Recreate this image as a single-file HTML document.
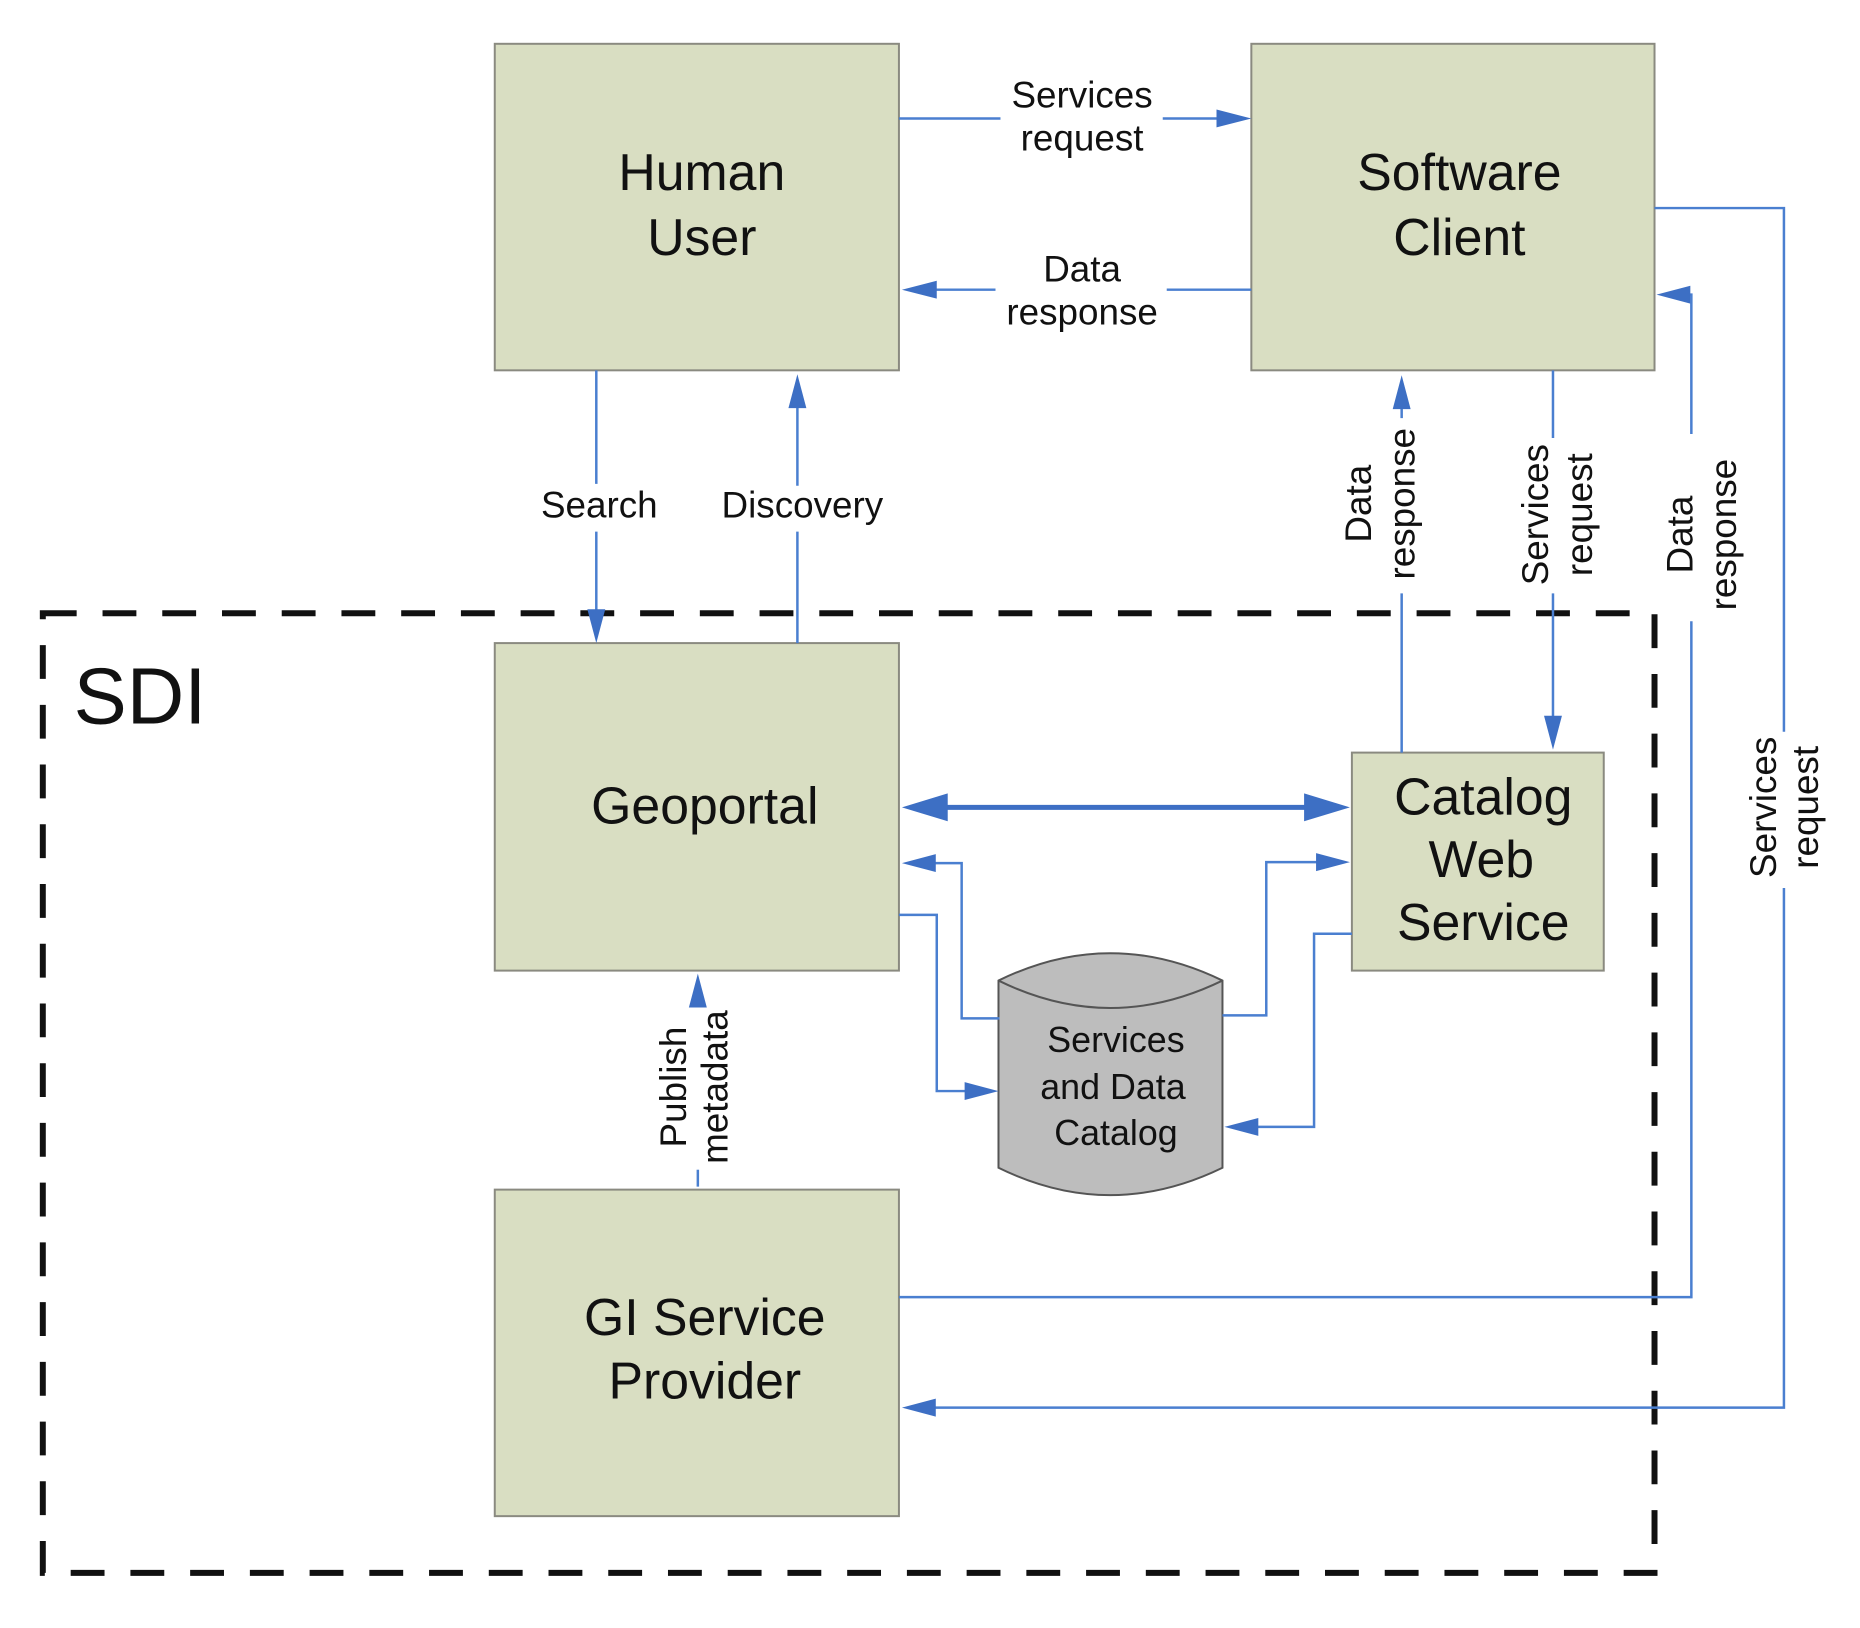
<!DOCTYPE html>
<html><head><meta charset="utf-8"><style>
html,body{margin:0;padding:0;background:#fff;}
svg{display:block;}
text{font-family:"Liberation Sans",Arial,sans-serif;fill:#111;}
</style></head><body>
<svg width="1860" height="1628" viewBox="0 0 1860 1628" xmlns="http://www.w3.org/2000/svg">
<g transform="scale(0.9955)">
<rect x="43" y="616" width="1619" height="964" fill="none" stroke="#111" stroke-width="6" stroke-dasharray="34,26"/>
<text x="74" y="727" font-size="80">SDI</text>

<g fill="#d9dec2" stroke="#8a8a80" stroke-width="2">
<rect x="497" y="44" width="406" height="328"/>
<rect x="1257" y="44" width="405" height="328"/>
<rect x="497" y="646" width="406" height="329"/>
<rect x="1358" y="756" width="253" height="219"/>
<rect x="497" y="1195" width="406" height="328"/>
</g>
<g font-size="52" text-anchor="middle">
<text x="705" y="191">Human</text><text x="705" y="256">User</text>
<text x="1466" y="191">Software</text><text x="1466" y="256">Client</text>
<text x="708" y="827">Geoportal</text>
<text x="1490" y="818">Catalog</text><text x="1488" y="881">Web</text><text x="1490" y="944">Service</text>
<text x="708" y="1341">GI Service</text><text x="708" y="1405">Provider</text>
</g>

<path d="M1003,985 Q1115,930 1228,985 L1228,1173 Q1115,1228 1003,1173 Z" fill="#bdbdbd" stroke="#555" stroke-width="2"/>
<path d="M1003,985 Q1115,1040 1228,985" fill="none" stroke="#555" stroke-width="2"/>
<g font-size="36" text-anchor="middle">
<text x="1121" y="1057">Services</text><text x="1118" y="1104">and Data</text><text x="1121" y="1150">Catalog</text>
</g>

<g fill="none" stroke="#4a7fd0" stroke-width="2.5">
<path d="M903,119 H1005 M1168,119 H1240"/>
<path d="M1257,291 H1172 M1000,291 H920"/>
<path d="M599,372 V486 M599,534 V630"/>
<path d="M801,646 V534 M801,488 V390"/>
<path d="M1408,756 V596 M1408,420 V392"/>
<path d="M1560,372 V440 M1560,596 V738"/>
<path d="M903,1303 H1699 V624 M1699,436 V296 H1678"/>
<path d="M1662,209 H1792 V735 M1792,892 V1414 H922"/>
<path d="M1004,1023 H966 V867 H922"/>
<path d="M903,919 H941 V1096 H988"/>
<path d="M1228,1020 H1272 V866 H1340"/>
<path d="M1358,938 H1320 V1132 H1250"/>
<path d="M701,1192 V1175 M701,990"/>
</g>
<path d="M930,811 H1330" stroke="#3d6fc4" stroke-width="5"/>
<g fill="#3d6fc4">
<polygon points="1257,119 1222,110 1222,128"/>
<polygon points="906,291 941,282 941,300"/>
<polygon points="599,646 590,612 608,612"/>
<polygon points="801,376 792,410 810,410"/>
<polygon points="1408,377 1399,411 1417,411"/>
<polygon points="1560,753 1551,719 1569,719"/>
<polygon points="1664,296 1698,287 1698,305"/>
<polygon points="906,1414 940,1405 940,1423"/>
<polygon points="906,867 940,858 940,876"/>
<polygon points="1003,1096 969,1087 969,1105"/>
<polygon points="1356,866 1322,857 1322,875"/>
<polygon points="1230,1132 1264,1123 1264,1141"/>
<polygon points="701,978 692,1012 710,1012"/>
<polygon points="906,811 952,797 952,825"/>
<polygon points="1356,811 1310,797 1310,825"/>
</g>

<g font-size="37" text-anchor="middle">
<text x="1087" y="108">Services</text><text x="1087" y="151">request</text>
<text x="1087" y="283">Data</text><text x="1087" y="326">response</text>
<text x="602" y="520">Search</text>
<text x="806" y="520">Discovery</text>
<text transform="translate(1377,506) rotate(-90)">Data</text>
<text transform="translate(1421,506) rotate(-90)">response</text>
<text transform="translate(1555,517) rotate(-90)">Services</text>
<text transform="translate(1599,517) rotate(-90)">request</text>
<text transform="translate(1700,537) rotate(-90)">Data</text>
<text transform="translate(1744,537) rotate(-90)">response</text>
<text transform="translate(1784,811) rotate(-90)">Services</text>
<text transform="translate(1826,811) rotate(-90)">request</text>
<text transform="translate(689,1092) rotate(-90)">Publish</text>
<text transform="translate(731,1092) rotate(-90)">metadata</text>
</g>
</g>
</svg>
</body></html>
